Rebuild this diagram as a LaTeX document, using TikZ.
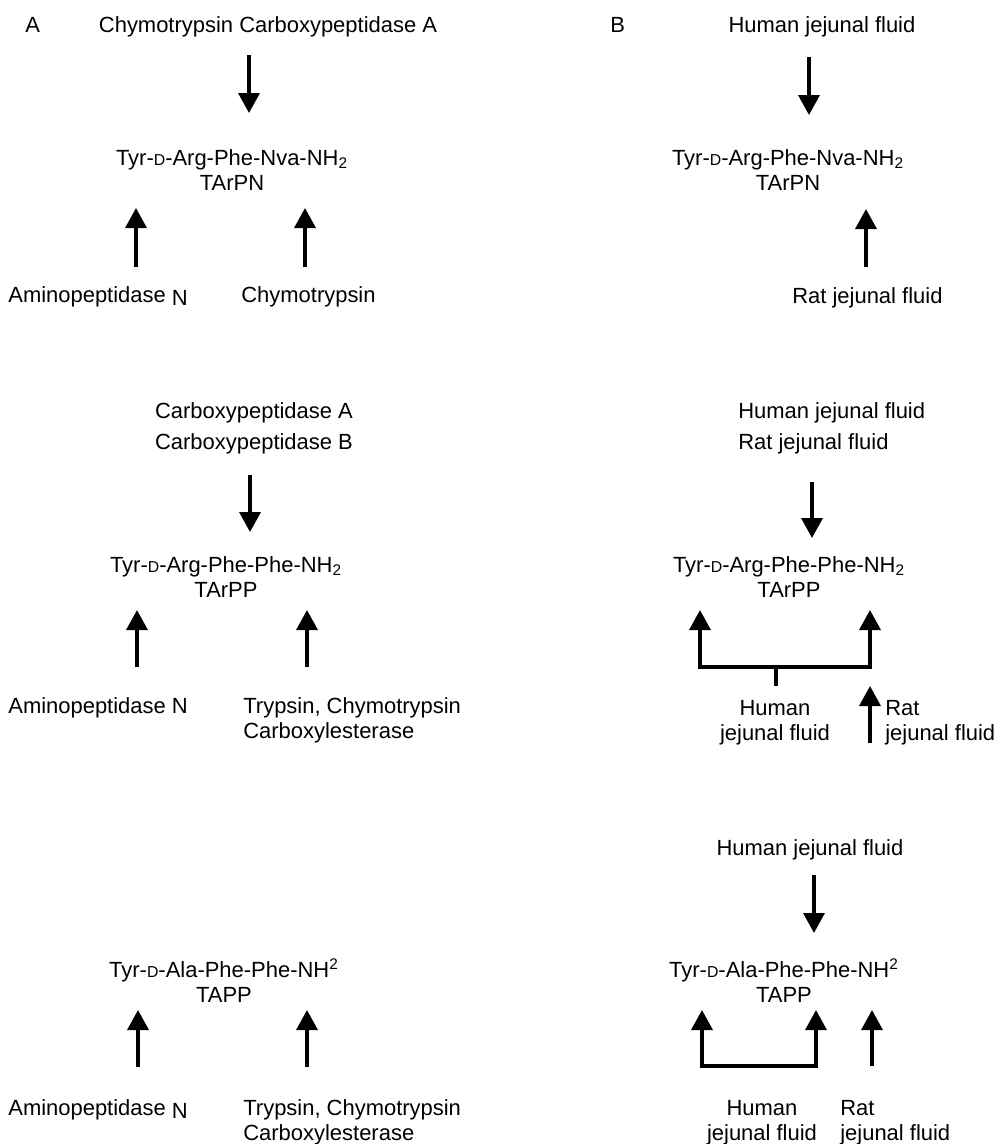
\documentclass[tikz,border=0pt]{standalone}
\usepackage{fontspec}
\setmainfont{Liberation Sans}
\usetikzlibrary{arrows.meta}
\newcommand{\dsc}{{\fontsize{9}{9}\selectfont D}}
\newcommand{\lowN}{\raisebox{-2pt}{N}}
\tikzstyle{enzyme} = [inner sep=0pt, anchor=base west, font=\fontsize{12.5}{14}\selectfont]
\tikzstyle{peptide} = [inner sep=0pt, anchor=base, align=center, font=\fontsize{12.5}{14}\selectfont]
\tikzstyle{arrow} = [line width=2pt, -{Triangle[width=0.42cm,length=0.40cm]}]
\tikzstyle{bracket} = [line width=2pt]

\begin{document}
\begin{tikzpicture}[x=0.02cm, y=-0.02cm]
      \useasboundingbox (0,0) rectangle (997,1144);

      % panel A, TArPN (multi-line nodes sit on their last baseline)
      \node[enzyme] (panA) at (25,32) {A};
      \node[enzyme, anchor=base] (chycpa) at (268,32) {Chymotrypsin Carboxypeptidase A};
      \node[peptide] (tarpnA) at (232,190) {Tyr-\dsc-Arg-Phe-Nva-NH\textsubscript{2}\\TArPN};
      \node[enzyme] (apnA1) at (8,302) {Aminopeptidase \lowN};
      \node[enzyme] (chyA1) at (241,302) {Chymotrypsin};
      \coordinate (a1s) at (249,55);  \coordinate (a1e) at (249,113);
      \coordinate (a2s) at (136,267); \coordinate (a2e) at (136,208);
      \coordinate (a3s) at (305,267); \coordinate (a3e) at (305,208);
      \draw[arrow] (a1s) -- (a1e);
      \draw[arrow] (a2s) -- (a2e);
      \draw[arrow] (a3s) -- (a3e);

      % panel B, TArPN
      \node[enzyme] (panB) at (610,32) {B};
      \node[enzyme, anchor=base] (hjfB1) at (822,32) {Human jejunal fluid};
      \node[peptide] (tarpnB) at (788,190) {Tyr-\dsc-Arg-Phe-Nva-NH\textsubscript{2}\\TArPN};
      \node[enzyme] (rjfB1) at (792,303) {Rat jejunal fluid};
      \coordinate (b1s) at (809,57);  \coordinate (b1e) at (809,115);
      \coordinate (b2s) at (866,267); \coordinate (b2e) at (866,209);
      \draw[arrow] (b1s) -- (b1e);
      \draw[arrow] (b2s) -- (b2e);

      % panel A, TArPP
      \node[enzyme, anchor=base, align=center] (cpab) at (254,449) {Carboxypeptidase A\\[3.5pt]Carboxypeptidase B};
      \node[peptide] (tarppA) at (226,597) {Tyr-\dsc-Arg-Phe-Phe-NH\textsubscript{2}\\TArPP};
      \node[enzyme] (apnA2) at (8,713) {Aminopeptidase N};
      \node[enzyme, align=left] (tryA2) at (243,738) {Trypsin, Chymotrypsin\\Carboxylesterase};
      \coordinate (a4s) at (250,475); \coordinate (a4e) at (250,532);
      \coordinate (a5s) at (137,667); \coordinate (a5e) at (137,610);
      \coordinate (a6s) at (307,667); \coordinate (a6e) at (307,610);
      \draw[arrow] (a4s) -- (a4e);
      \draw[arrow] (a5s) -- (a5e);
      \draw[arrow] (a6s) -- (a6e);

      % panel B, TArPP
      \node[enzyme, align=left] (hrjf) at (738,449) {Human jejunal fluid\\[3.5pt]Rat jejunal fluid};
      \node[peptide] (tarppB) at (789,597) {Tyr-\dsc-Arg-Phe-Phe-NH\textsubscript{2}\\TArPP};
      \node[enzyme, anchor=base, align=center] (hjfB2) at (775,740) {Human\\jejunal fluid};
      \node[enzyme, align=left] (rjfB2) at (885,740) {Rat\\jejunal fluid};
      \coordinate (b3s) at (812,482); \coordinate (b3e) at (812,538);
      \coordinate (hstem) at (776,686); \coordinate (hbar) at (776,667);
      \coordinate (hl) at (700,610);    \coordinate (hr) at (870,610);
      \coordinate (b4s) at (870,743);   \coordinate (b4e) at (870,686);
      \draw[arrow] (b3s) -- (b3e);
      \draw[bracket] (hstem) -- (hbar);
      \draw[arrow] (hbar) -| (hl);
      \draw[arrow] (hbar) -| (hr);
      \draw[arrow] (b4s) -- (b4e);

      % panel A, TAPP
      \node[peptide] (tappA) at (224,1002) {Tyr-\dsc-Ala-Phe-Phe-NH\textsuperscript{2}\\TAPP};
      \node[enzyme] (apnA3) at (8,1115) {Aminopeptidase \lowN};
      \node[enzyme, align=left] (tryA3) at (243,1140) {Trypsin, Chymotrypsin\\Carboxylesterase};
      \coordinate (a7s) at (138,1067); \coordinate (a7e) at (138,1010);
      \coordinate (a8s) at (307,1067); \coordinate (a8e) at (307,1010);
      \draw[arrow] (a7s) -- (a7e);
      \draw[arrow] (a8s) -- (a8e);

      % panel B, TAPP
      \node[enzyme, anchor=base] (hjfB3) at (810,855) {Human jejunal fluid};
      \node[peptide] (tappB) at (784,1002) {Tyr-\dsc-Ala-Phe-Phe-NH\textsuperscript{2}\\TAPP};
      \node[enzyme, anchor=base, align=center] (hjfB4) at (762,1140) {Human\\jejunal fluid};
      \node[enzyme, align=left] (rjfB3) at (840,1140) {Rat\\jejunal fluid};
      \coordinate (b5s) at (814,875); \coordinate (b5e) at (814,933);
      \coordinate (hbar2) at (759,1066);
      \coordinate (hl2) at (702,1010);  \coordinate (hr2) at (816,1010);
      \coordinate (b6s) at (872,1066);  \coordinate (b6e) at (872,1010);
      \draw[arrow] (b5s) -- (b5e);
      \draw[arrow] (hbar2) -| (hl2);
      \draw[arrow] (hbar2) -| (hr2);
      \draw[arrow] (b6s) -- (b6e);
    \end{tikzpicture}
\end{document}
